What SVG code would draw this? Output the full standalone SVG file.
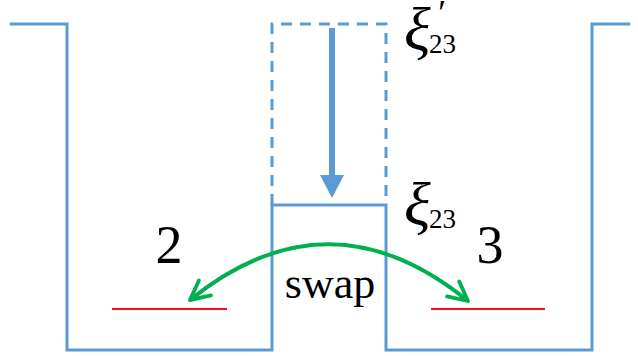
<svg xmlns="http://www.w3.org/2000/svg" width="638" height="356" viewBox="0 0 638 356">
<style>
.wall{fill:none;stroke:#5B9BD5;stroke-width:3;stroke-linejoin:miter}
.dash{fill:none;stroke:#5B9BD5;stroke-width:3;stroke-dasharray:11,8}
.lvl{stroke:#E8141B;stroke-width:2}
</style>
<defs>
<marker id="gh" viewBox="0 0 10 10" refX="9" refY="5" markerWidth="6" markerHeight="6" markerUnits="strokeWidth" orient="auto-start-reverse">
<path d="M1,1 L9,5 L1,9" fill="none" stroke="#00B050" stroke-width="1.6" stroke-linecap="round" stroke-linejoin="round"/>
</marker>
</defs>
<g id="well">
<path class="wall" d="M10,24 H67 V350 H272 V205 H386 V350 H592 V24 H630"/>
</g>
<g id="barrier-prime">
<path class="dash" d="M272,205 V24 H386 V205"/>
</g>
<g id="levels">
<line class="lvl" x1="112" y1="309" x2="227" y2="309"/>
<line class="lvl" x1="431" y1="309" x2="545" y2="309"/>
</g>
<g id="connectors">
<line x1="332" y1="28" x2="332" y2="178" stroke="#5B9BD5" stroke-width="6"/>
<polygon points="320,175 344,175 332,198" fill="#5B9BD5"/>
<path d="M190,300 Q329,188 468,301" fill="none" stroke="#00B050" stroke-width="4" marker-start="url(#gh)" marker-end="url(#gh)"/>
</g>
<g id="labels" font-family="Liberation Serif, serif" fill="#000">
<text font-size="54" x="169" y="263" text-anchor="middle">2</text>
<text font-size="54" x="490" y="263" text-anchor="middle">3</text>
<text font-size="44" x="330" y="298" text-anchor="middle">swap</text>
<text font-size="62" font-style="italic" x="404" y="50">ξ</text>
<text font-size="27" x="429" y="53">23</text>
<text font-size="36" font-style="italic" x="436" y="25">′</text>
<text font-size="62" font-style="italic" x="404" y="225">ξ</text>
<text font-size="27" x="429" y="228">23</text>
</g>
</svg>
